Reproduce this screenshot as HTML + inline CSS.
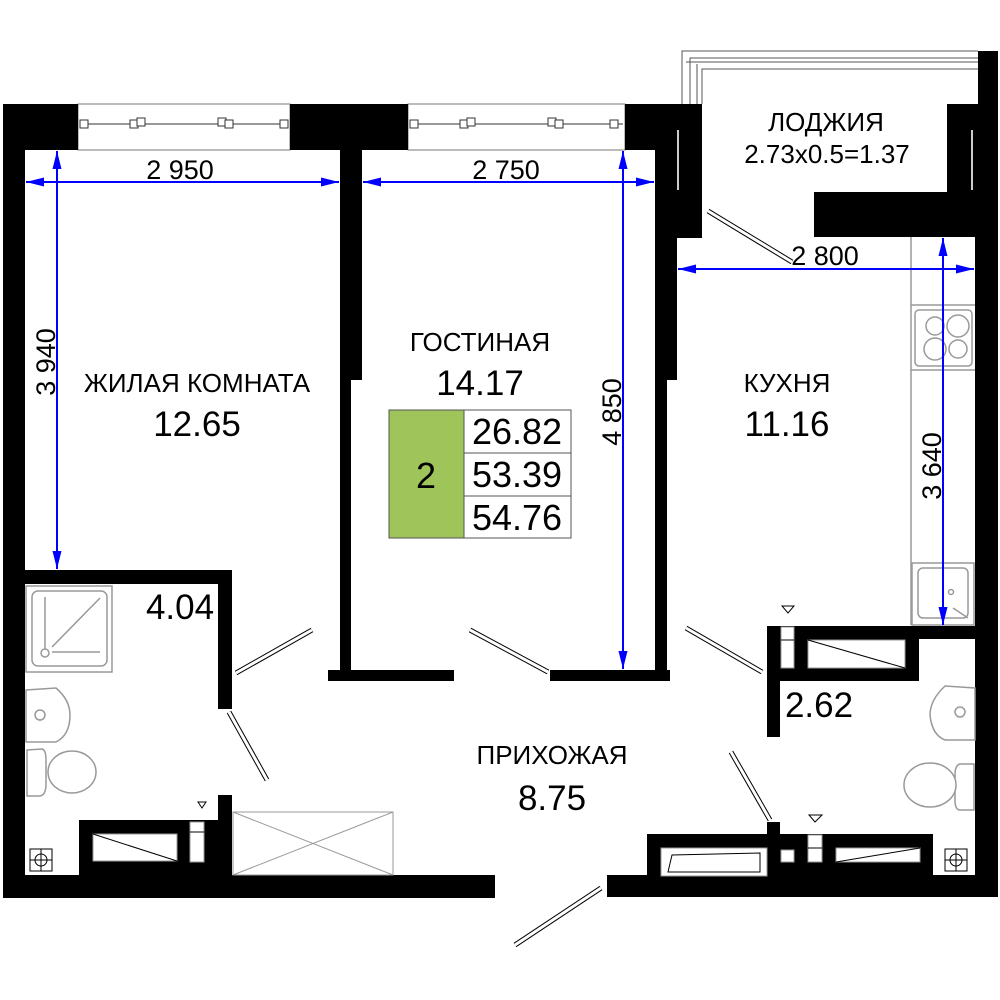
<!DOCTYPE html>
<html><head><meta charset="utf-8"><style>
html,body{margin:0;padding:0;background:#fff}
svg{display:block}
text{font-family:"Liberation Sans",sans-serif;fill:#000}
</style></head><body>
<svg width="1000" height="1000" viewBox="0 0 1000 1000" xmlns="http://www.w3.org/2000/svg">
<defs>
<marker id="ah2" viewBox="0 0 20 10" refX="20" refY="5" markerWidth="18" markerHeight="9" markerUnits="userSpaceOnUse" orient="auto-start-reverse"><path d="M0,0 L20,5 L0,10z" fill="#0000ff"/></marker>
</defs>

<g fill="#fff" stroke="#777" stroke-width="1">
<rect x="78" y="104" width="212" height="46"/>
<rect x="408" y="104" width="217" height="46"/>
</g>
<g stroke="#333" stroke-width="1" fill="#fff">
<line x1="80" y1="124" x2="288" y2="124"/>
<line x1="410" y1="124" x2="623" y2="124"/>
<rect x="80" y="120" width="8" height="8"/><rect x="130" y="120" width="8" height="8"/><rect x="137" y="118" width="8" height="8"/>
<rect x="218" y="118" width="8" height="8"/><rect x="225" y="120" width="8" height="8"/><rect x="280" y="120" width="8" height="8"/>
<rect x="410" y="120" width="8" height="8"/><rect x="460" y="120" width="8" height="8"/><rect x="467" y="118" width="8" height="8"/>
<rect x="548" y="118" width="8" height="8"/><rect x="555" y="120" width="8" height="8"/><rect x="610" y="120" width="8" height="8"/>
</g>
<g fill="none" stroke="#555" stroke-width="1">
<path d="M682,104 L682,51 L978,51"/>
<path d="M702,104 L702,69 L978,69"/>
<path d="M690,104 L690,58 L978,58"/>
<line x1="697" y1="104" x2="697" y2="64"/>
<line x1="686" y1="62" x2="978" y2="62"/>
</g>

<g fill="#000">
<rect x="3" y="104" width="22" height="793"/>
<rect x="3" y="104" width="75" height="46"/>
<rect x="290" y="104" width="118" height="46"/>
<rect x="340" y="150" width="22" height="230"/>
<rect x="340" y="380" width="11" height="290"/>
<rect x="328" y="670" width="126" height="11"/>
<rect x="550" y="670" width="120" height="11"/>
<rect x="625" y="104" width="77" height="46"/>
<rect x="655" y="150" width="47" height="88"/>
<rect x="655" y="238" width="22" height="142"/>
<rect x="655" y="380" width="12" height="290"/>
<rect x="978" y="51" width="20" height="846"/>
<rect x="947" y="104" width="51" height="90"/>
<rect x="814" y="192" width="184" height="45"/>
<rect x="975" y="237" width="23" height="660"/>
<rect x="3" y="570" width="229" height="14"/>
<rect x="218" y="570" width="14" height="139"/>
<rect x="218" y="795" width="14" height="80"/>
<rect x="79" y="820" width="153" height="55"/>
<rect x="3" y="875" width="492" height="23"/>
<rect x="767" y="626" width="208" height="13"/>
<rect x="767" y="626" width="152" height="55"/>
<rect x="767" y="626" width="13" height="111"/>
<rect x="767" y="822" width="13" height="14"/>
<rect x="647" y="834" width="286" height="42"/>
<rect x="607" y="875" width="391" height="22"/>
</g>
<g fill="#fff" stroke="#999" stroke-width="1">
<rect x="93" y="834" width="84" height="27"/>
<rect x="190" y="822" width="14" height="40"/>
<rect x="781" y="627" width="13" height="41"/>
<rect x="808" y="640" width="97" height="28"/>
<rect x="661" y="848" width="106" height="28"/>
<rect x="781" y="850" width="13" height="12"/>
<rect x="808" y="835" width="14" height="27"/>
<rect x="836" y="848" width="84" height="14"/>
</g>
<g stroke="#000" stroke-width="1" fill="none">
<line x1="93" y1="834" x2="177" y2="861"/>
<line x1="808" y1="640" x2="905" y2="668"/>
<path d="M668,872 L672,855 L760,853 L760,872Z"/>
<line x1="836" y1="862" x2="920" y2="848"/>
<line x1="190" y1="832" x2="204" y2="832"/>
<line x1="781" y1="640" x2="794" y2="640"/>
<line x1="808" y1="848" x2="822" y2="848"/>
<path d="M198,802 L206,802 L202,808Z"/>
<path d="M782,606 L794,606 L788,613Z"/>
<path d="M809,815 L822,815 L815,822Z"/>
</g>
<g stroke="#ccc" stroke-width="2"><line x1="678" y1="130" x2="678" y2="190"/><line x1="972" y1="130" x2="972" y2="190"/></g>

<g stroke="#999" stroke-width="1" fill="none">
<rect x="233" y="812" width="160" height="63"/>
<line x1="233" y1="812" x2="393" y2="875"/><line x1="393" y1="812" x2="233" y2="875"/>
</g>

<g stroke="#999" stroke-width="1.5" fill="#fff">
<rect x="26" y="586" width="86" height="86"/>
<rect x="32" y="591" width="75" height="75" rx="6"/>
<line x1="45" y1="597" x2="45" y2="650"/><line x1="52" y1="652" x2="100" y2="652"/><line x1="52" y1="647" x2="100" y2="598"/>
<circle cx="45" cy="653" r="4"/>
<path d="M26,690 L56,688 Q70,700 70,715 Q70,735 56,742 L26,742Z"/>
<circle cx="40" cy="715" r="5"/>
<path d="M27,750 L42,749 Q46,750 46,760 L46,784 Q46,795 40,796 L27,796Z"/>
<ellipse cx="72" cy="772" rx="24" ry="21"/>
<rect x="30" y="849" width="22" height="22" stroke="#000" stroke-width="1"/>
<rect x="945" y="849" width="22" height="22" stroke="#000" stroke-width="1"/>
<path d="M975,688 L945,686 Q930,700 930,715 Q932,735 945,740 L975,740Z"/>
<circle cx="960" cy="712" r="5"/>
<path d="M974,764 L960,764 Q955,765 955,775 L955,800 Q955,810 960,810 L974,810Z"/>
<ellipse cx="930" cy="785" rx="26" ry="22"/>
<line x1="911" y1="237" x2="911" y2="625"/>
<line x1="911" y1="305" x2="975" y2="305"/><line x1="911" y1="370" x2="975" y2="370"/>
<rect x="915" y="310" width="57" height="56" rx="4"/>
<circle cx="935" cy="326" r="9"/><circle cx="958" cy="326" r="11"/><circle cx="935" cy="349" r="11"/><circle cx="958" cy="349" r="9"/>
<rect x="912" y="563" width="62" height="62"/>
<rect x="918" y="568" width="50" height="50" rx="5"/>
<circle cx="951" cy="592" r="2.5"/><line x1="953" y1="608" x2="968" y2="618"/>
</g>
<g stroke="#000" stroke-width="1" fill="none">
<line x1="41" y1="849" x2="41" y2="871"/><line x1="30" y1="860" x2="52" y2="860"/><circle cx="41" cy="860" r="6"/>
<line x1="956" y1="849" x2="956" y2="871"/><line x1="945" y1="860" x2="967" y2="860"/><circle cx="956" cy="860" r="6"/>
</g>

<g stroke-linecap="butt">
<g stroke="#000" stroke-width="5">
<line x1="236" y1="673" x2="312" y2="630"/>
<line x1="229" y1="712" x2="267" y2="780"/>
<line x1="470" y1="630" x2="548" y2="672"/>
<line x1="686" y1="628" x2="762" y2="672"/>
<line x1="731" y1="752" x2="770" y2="820"/>
<line x1="601" y1="888" x2="515" y2="945"/>
<line x1="708" y1="211" x2="792" y2="262"/>
</g>
<g stroke="#fff" stroke-width="3">
<line x1="236" y1="673" x2="312" y2="630"/>
<line x1="229" y1="712" x2="267" y2="780"/>
<line x1="470" y1="630" x2="548" y2="672"/>
<line x1="686" y1="628" x2="762" y2="672"/>
<line x1="731" y1="752" x2="770" y2="820"/>
<line x1="601" y1="888" x2="515" y2="945"/>
<line x1="708" y1="211" x2="792" y2="262"/>
</g>
</g>

<g stroke="#0000ff" stroke-width="2" fill="none">
<line x1="26" y1="182" x2="339" y2="182" marker-start="url(#ah2)" marker-end="url(#ah2)"/>
<line x1="363" y1="182" x2="654" y2="182" marker-start="url(#ah2)" marker-end="url(#ah2)"/>
<line x1="57" y1="151" x2="57" y2="569" marker-start="url(#ah2)" marker-end="url(#ah2)"/>
<line x1="623" y1="151" x2="623" y2="669" marker-start="url(#ah2)" marker-end="url(#ah2)"/>
<line x1="678" y1="269" x2="974" y2="269" marker-start="url(#ah2)" marker-end="url(#ah2)"/>
<line x1="943" y1="238" x2="943" y2="625" marker-start="url(#ah2)" marker-end="url(#ah2)"/>
</g>

<g font-size="27" text-anchor="middle">
<text x="180" y="179">2 950</text>
<text x="506" y="179">2 750</text>
<text x="825" y="265">2 800</text>
<text transform="translate(55,362) rotate(-90)">3 940</text>
<text transform="translate(621,412) rotate(-90)">4 850</text>
<text transform="translate(941,466) rotate(-90)">3 640</text>
</g>

<g text-anchor="middle">
<text x="197" y="392" font-size="26">ЖИЛАЯ КОМНАТА</text>
<text x="197" y="436" font-size="35">12.65</text>
<text x="480" y="351" font-size="26">ГОСТИНАЯ</text>
<text x="480" y="395" font-size="35">14.17</text>
<text x="787" y="392" font-size="26">КУХНЯ</text>
<text x="787" y="436" font-size="35">11.16</text>
<text x="552" y="764" font-size="26">ПРИХОЖАЯ</text>
<text x="552" y="810" font-size="35">8.75</text>
<text x="826" y="131" font-size="26">ЛОДЖИЯ</text>
<text x="827" y="163" font-size="26">2.73x0.5=1.37</text>
<text x="180" y="619" font-size="35">4.04</text>
<text x="819" y="717" font-size="35">2.62</text>
</g>

<rect x="389" y="410" width="75" height="128" fill="#9fc55a" stroke="#555" stroke-width="1"/>
<g fill="#fff" stroke="#555" stroke-width="1">
<rect x="464" y="410" width="107" height="43"/>
<rect x="464" y="453" width="107" height="43"/>
<rect x="464" y="496" width="107" height="42"/>
</g>
<g text-anchor="middle" font-size="36">
<text x="426" y="488">2</text>
<text x="517" y="444">26.82</text>
<text x="517" y="487">53.39</text>
<text x="517" y="530">54.76</text>
</g>
</svg>
</body></html>
